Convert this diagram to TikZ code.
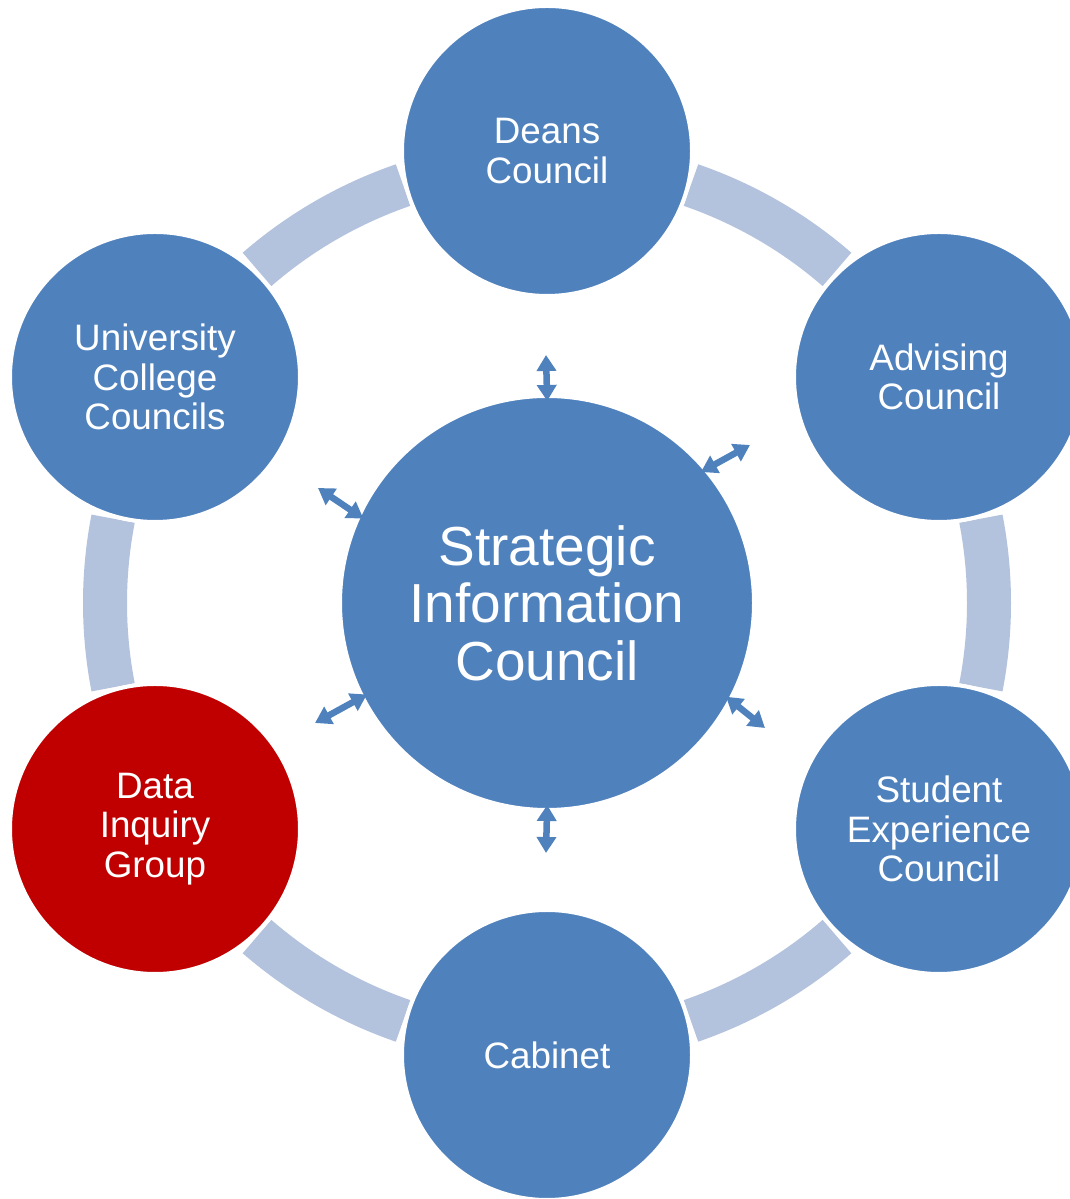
\documentclass[tikz,border=0pt]{standalone}
\usepackage{fontspec}
\setmainfont{Liberation Sans}
\usetikzlibrary{arrows.meta}
\definecolor{sicblue}{HTML}{4F81BD}
\definecolor{dired}{HTML}{C00000}
\definecolor{ringblue}{HTML}{B3C2DD}

\begin{document}
\begin{tikzpicture}[x=1pt,y=1pt,
  council/.style={circle, fill=sicblue, draw=white, line width=4pt, minimum size=290pt,
    inner sep=0pt, text=white, align=center, font=\fontsize{36.8}{39.5}\selectfont},
  ringseg/.style={ringblue, line width=44pt},
  linkarrow/.style={sicblue, line width=6.5pt, shorten <=-7pt,
    {Triangle[width=19pt,length=16pt]}-{Triangle[width=19pt,length=16pt]}}]
\clip (0,0) rectangle (1070,1199);
\coordinate (hub) at (547,596);

% Ring behind the councils
\foreach \m in {0,60,...,300}
  \draw[ringseg] ([shift={(\m-11:442)}]hub) arc[start angle=\m-11, end angle=\m+11, radius=442];

% Councils round the ring
\node[council] (deans) at (547,1048) {Deans\\Council};
\node[council] (advising) at (939,822) {Advising\\Council};
\node[council] (student) at (939,370) {Student\\Experience\\Council};
\node[council] (cabinet) at (547,144) {Cabinet};
\node[council, fill=dired] (dig) at (155,370) {Data\\Inquiry\\Group};
\node[council] (ucc) at (155,822) {University\\College\\Councils};

% Central council
\node[council, minimum size=414pt, font=\fontsize{55}{57.5}\selectfont] (sic) at (hub)
  {Strategic\\Information\\Council};

% Arrows out of the centre
\coordinate (tDeans) at (546,844);
\coordinate (tAdvising) at (750,754);
\coordinate (tStudent) at (765,471);
\coordinate (tCabinet) at (546,346);
\coordinate (tDig) at (315,476);
\coordinate (tUcc) at (318,711);
\draw[linkarrow] (sic.90) -- (tDeans);
\draw[linkarrow] (sic.40.7) -- (tAdvising);
\draw[linkarrow] (sic.-28.3) -- (tStudent);
\draw[linkarrow] (sic.270) -- (tCabinet);
\draw[linkarrow] (sic.207.6) -- (tDig);
\draw[linkarrow] (sic.155.6) -- (tUcc);
\end{tikzpicture}
\end{document}
